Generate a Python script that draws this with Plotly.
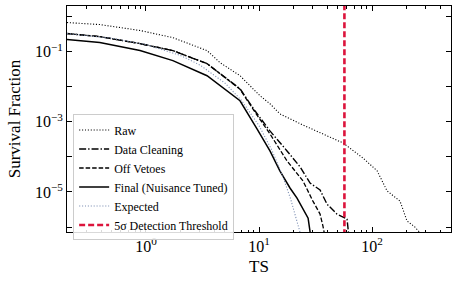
import plotly.graph_objects as go

# ---- data ----
raw_ts = [0.2, 0.39, 0.885, 1.73, 3.47, 4.52, 6.79, 10.2, 12.5, 15.3, 23.1, 34.7, 46.0, 55.4, 83.2, 111, 136, 177, 204, 240, 290]
raw_sf = [0.674, 0.59, 0.40, 0.25, 0.107, 0.0485, 0.0206, 0.00553, 0.00327, 0.00169, 8.8e-4, 4.85e-4, 3.3e-4, 2.5e-4, 9.3e-5, 4.0e-5, 1.07e-5, 5.5e-6, 1.5e-6, 1.0e-6, 5.0e-7]

clean_ts = [0.2, 0.39, 0.885, 1.73, 3.47, 6.79, 9.2, 12.5, 17.7, 23.1, 28.3, 34.7, 40.0, 49.0, 60.1, 62.6]
clean_sf = [0.327, 0.268, 0.169, 0.107, 0.0454, 0.00877, 0.00206, 5.5e-4, 1.48e-4, 5.2e-5, 1.8e-5, 1.14e-5, 4.5e-6, 2.35e-6, 1.69e-6, 5.0e-7]

veto_ts = [0.2, 0.39, 0.885, 1.73, 3.47, 6.79, 9.2, 12.5, 17.7, 21.7, 24.5, 30.0, 34.7, 36.8, 38.5]
veto_sf = [0.327, 0.268, 0.169, 0.107, 0.0454, 0.0085, 0.0019, 4.54e-4, 7.7e-5, 3.5e-5, 2.06e-5, 5.5e-6, 2.35e-6, 1.07e-6, 5.0e-7]

final_ts = [0.2, 0.39, 0.885, 1.73, 3.47, 6.79, 9.6, 12.5, 15.3, 18.8, 21.7, 24.5, 27.2, 28.8]
final_sf = [0.22, 0.181, 0.107, 0.0553, 0.0206, 0.00398, 6.3e-4, 1.48e-4, 4.0e-5, 1.3e-5, 6.7e-6, 3.27e-6, 1.8e-6, 5.0e-7]

exp_ts = [0.2, 0.5, 1, 2, 3, 5, 7, 10, 13, 16, 19, 22, 25]
exp_sf = [0.327, 0.240, 0.1587, 0.0786, 0.0416, 0.0127, 0.00407, 7.8e-4, 1.55e-4, 3.17e-5, 6.5e-6, 1.37e-6, 2.87e-7]

threshold_ts = 57
y_major = [1e-5, 1e-3, 1e-1]
y_major_text = ["10<sup>−5</sup>", "10<sup>−3</sup>", "10<sup>−1</sup>"]
y_minor = [1e-6, 1e-4, 1e-2, 1]
x_decades = [1, 10, 100]
x_ticktext = ["10<sup>0</sup>", "10<sup>1</sup>", "10<sup>2</sup>"]

FONT = "Liberation Serif"

fig = go.Figure()
fig.add_trace(go.Scatter(x=raw_ts, y=raw_sf, mode="lines", name="Raw",
                         line=dict(color="black", width=1.1, dash="1.1px,1.8px")))
fig.add_trace(go.Scatter(x=clean_ts, y=clean_sf, mode="lines", name="Data Cleaning",
                         line=dict(color="black", width=1.4, dash="7px,2px,1.4px,2px")))
fig.add_trace(go.Scatter(x=veto_ts, y=veto_sf, mode="lines", name="Off Vetoes",
                         line=dict(color="black", width=1.3, dash="4.5px,2px")))
fig.add_trace(go.Scatter(x=final_ts, y=final_sf, mode="lines", name="Final (Nuisance Tuned)",
                         line=dict(color="black", width=1.5)))
fig.add_trace(go.Scatter(x=exp_ts, y=exp_sf, mode="lines", name="Expected",
                         line=dict(color="#7d8fb3", width=1.1, dash="1.1px,1.8px")))
fig.add_trace(go.Scatter(x=[threshold_ts, threshold_ts], y=[1e-7, 10], mode="lines",
                         name="5σ Detection Threshold",
                         line=dict(color="#dc143c", width=2.6, dash="6px,3px")))

fig.update_layout(
    width=457, height=283,
    margin=dict(l=67, r=6, t=6, b=51, autoexpand=False),
    paper_bgcolor="white", plot_bgcolor="white",
    font=dict(family=FONT, size=15, color="black"),
    showlegend=True,
    legend=dict(x=0.016, y=0.52, xanchor="left", yanchor="top",
                bgcolor="rgba(255,255,255,0.85)", bordercolor="#cccccc", borderwidth=1,
                font=dict(family=FONT, size=12), itemwidth=30, tracegroupgap=0),
)
fig.update_xaxes(type="log", range=[-0.699, 2.699],
                 tickvals=x_decades, ticktext=x_ticktext, tickfont=dict(size=16),
                 ticks="inside", ticklen=5, tickwidth=1, tickcolor="black",
                 showline=True, linecolor="black", linewidth=1, mirror="ticks",
                 showgrid=False, zeroline=False,
                 minor=dict(ticks="inside", ticklen=2.5, tickcolor="black", dtick="D1", showgrid=False),
                 title=dict(text="TS", font=dict(size=17), standoff=5))
fig.update_yaxes(type="log", range=[-6.14, 0.30],
                 tickvals=y_major, ticktext=y_major_text, tickfont=dict(size=16),
                 ticks="inside", ticklen=5, tickwidth=1, tickcolor="black",
                 showline=True, linecolor="black", linewidth=1, mirror="ticks",
                 showgrid=False, zeroline=False,
                 minor=dict(tickvals=y_minor, ticks="inside", ticklen=5, tickcolor="black", showgrid=False),
                 title=dict(text="Survival Fraction", font=dict(size=17), standoff=9))

fig.write_html("out.html", config={"displayModeBar": False},
               post_script="document.body.style.margin='0px';document.body.style.overflow='hidden';")
